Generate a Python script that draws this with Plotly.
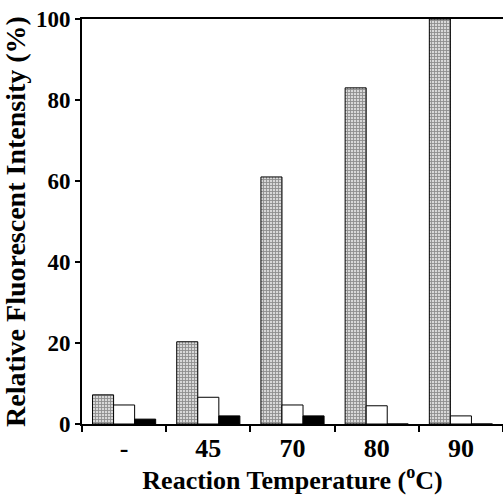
import plotly.graph_objects as go

categories = ["-", "45", "70", "80", "90"]
dotted_vals = [7.2, 20.3, 61.0, 83.0, 100.0]
white_vals = [4.7, 6.6, 4.7, 4.5, 2.0]
black_vals = [1.2, 2.0, 2.0, 0.0, 0.0]
y_ticks = [0, 20, 40, 60, 80, 100]

font_family = "Liberation Serif"

fig = go.Figure()
fig.add_trace(go.Bar(
    x=categories, y=dotted_vals,
    marker=dict(color="white", line=dict(color="black", width=1),
                pattern=dict(shape="+", size=3, solidity=0.5,
                             fgcolor="#444444", bgcolor="#d8d8d8")),
))
fig.add_trace(go.Bar(
    x=categories, y=white_vals,
    marker=dict(color="white", line=dict(color="black", width=1)),
))
fig.add_trace(go.Bar(
    x=categories, y=black_vals,
    marker=dict(color="black", line=dict(color="black", width=1)),
))

fig.update_layout(
    width=503, height=495,
    margin=dict(l=82, r=0, t=19, b=71),
    paper_bgcolor="white", plot_bgcolor="white",
    barmode="group", bargap=0.25, bargroupgap=0,
    showlegend=False,
    font=dict(family=font_family, color="black"),
    xaxis=dict(
        type="category", tickson="boundaries", ticks="outside", ticklen=6,
        tickwidth=2, tickcolor="black", automargin=False,
        showline=True, linecolor="black", linewidth=2, mirror=True,
        showgrid=False,
        tickfont=dict(size=26, family=font_family, weight="bold"),
        title=dict(text="Reaction Temperature (<sup>o</sup>C)",
                   font=dict(size=26, family=font_family, weight="bold"),
                   standoff=4),
    ),
    yaxis=dict(
        range=[0, 100], tickvals=y_ticks, ticks="outside", ticklen=5,
        tickwidth=2, tickcolor="black", automargin=True,
        showline=True, linecolor="black", linewidth=2,
        showgrid=False, zeroline=False,
        tickfont=dict(size=23, family=font_family, weight="bold"),
        title=dict(text="Relative Fluorescent Intensity (%)",
                   font=dict(size=28, family=font_family, weight="bold"),
                   standoff=4),
    ),
)

fig.write_html("out.html", config={"displayModeBar": False},
               post_script="document.body.style.margin='0';document.body.style.overflow='hidden';")
